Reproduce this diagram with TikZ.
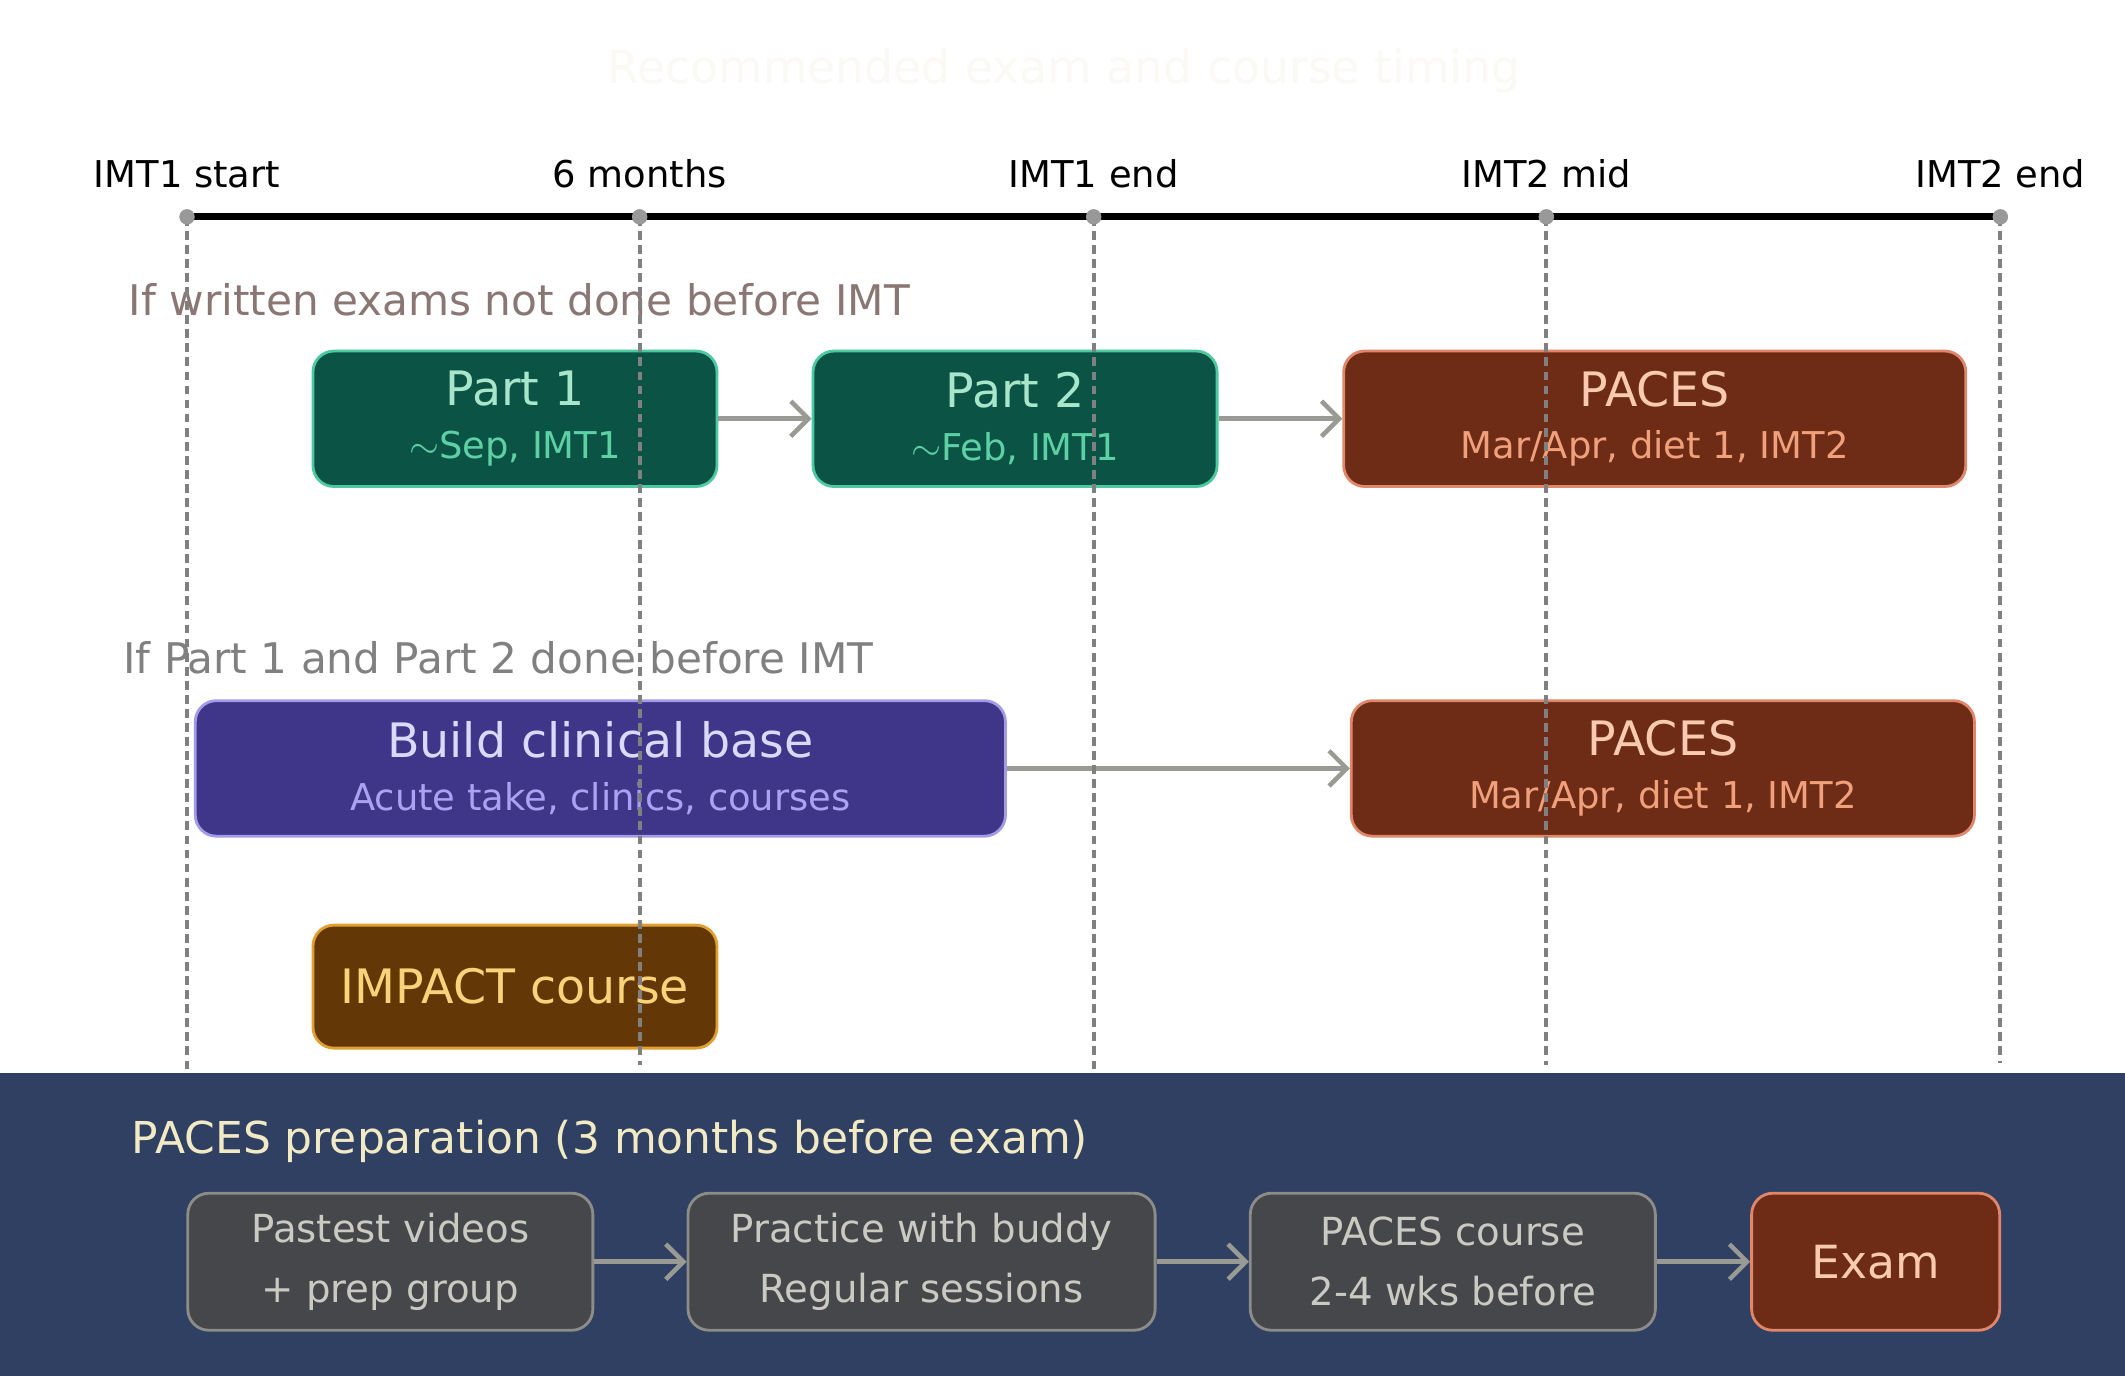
\documentclass[tikz,border=0pt]{standalone}
\usepackage{fontspec}
\setmainfont{DejaVu Sans}
\usetikzlibrary{positioning}
\usetikzlibrary{arrows.meta}
\definecolor{grnfill}{HTML}{0B5345}
\definecolor{grnline}{HTML}{4CC9A0}
\definecolor{grnsub}{HTML}{5DD0A4}
\definecolor{grntext}{HTML}{A8E6CC}
\definecolor{redfill}{HTML}{6E2C16}
\definecolor{redline}{HTML}{E0866A}
\definecolor{redsub}{HTML}{F0A07A}
\definecolor{redtext}{HTML}{F8CBB0}
\definecolor{purfill}{HTML}{3F3589}
\definecolor{purline}{HTML}{A49AEA}
\definecolor{pursub}{HTML}{ABA2F2}
\definecolor{purtext}{HTML}{DCD8FA}
\definecolor{ambfill}{HTML}{633806}
\definecolor{ambline}{HTML}{E0A030}
\definecolor{ambtext}{HTML}{FAD27A}
\definecolor{bandfill}{HTML}{2F4063}
\definecolor{prepfill}{HTML}{46474A}
\definecolor{prepline}{HTML}{8C8C88}
\definecolor{preptext}{HTML}{CACAC2}
\definecolor{arrowgray}{HTML}{9A9A94}
\definecolor{rowlabel}{HTML}{8A7672}
\tikzset{
    box/.style={draw, line width=0.8pt, rounded corners=6pt, align=center,
        inner sep=0pt},
    arr/.style={draw=arrowgray, line width=1.3pt, -{Straight Barb[length=5pt,width=10pt]}},
    tick/.style={font=\fontsize{10.5}{12}\selectfont, anchor=base},
    guide/.style={draw=gray, line width=1.2pt, dash pattern=on 2.5pt off 1.5pt}
}
\newcommand{\twoline}[4]{{\fontsize{13.5}{15}\selectfont\color{#1}#2}\\[3pt]{\fontsize{10.5}{12}\selectfont\color{#3}#4}}
\begin{document}
\begin{tikzpicture}[x=0.01355cm, y=-0.01355cm]
        \useasboundingbox (0,0) rectangle (1568,1015);
        \fill[white] (0,0) rectangle (1568,1015);

        % Title
        \node[font=\fontsize{13}{15}\selectfont, text={rgb,255:red,250;green,249;blue,244}] (title) at (785,52) {Recommended exam and course timing};

        % Bottom band
        \fill[bandfill] (0,792) rectangle (1568,1015);

        % Rows
        \node[anchor=west, text=rowlabel, font=\fontsize{12}{14}\selectfont] (row1) at (86,221) {If written exams not done before IMT};
        \node[anchor=west, text=gray, font=\fontsize{12}{14}\selectfont] (row2) at (82,485) {If Part 1 and Part 2 done before IMT};

        \node[box, fill=grnfill, draw=grnline, minimum width=298\pgflinewidth*0+4.04cm, minimum height=1.355cm] (part1) at (380,309) {\twoline{grntext}{Part 1}{grnsub}{$\sim$Sep, IMT1}};
        \node[box, fill=grnfill, draw=grnline, minimum width=4.04cm, minimum height=1.355cm] (part2) at (749,309) {\twoline{grntext}{Part 2}{grnsub}{$\sim$Feb, IMT1}};
        \node[box, fill=redfill, draw=redline, minimum width=6.22cm, minimum height=1.355cm] (paces1) at (1221,309) {\twoline{redtext}{PACES}{redsub}{Mar/Apr, diet 1, IMT2}};

        \node[box, fill=purfill, draw=purline, minimum width=8.10cm, minimum height=1.355cm] (base) at (443,567) {\twoline{purtext}{Build clinical base}{pursub}{Acute take, clinics, courses}};
        \node[box, fill=redfill, draw=redline, minimum width=6.23cm, minimum height=1.355cm] (paces2) at (1227,567) {\twoline{redtext}{PACES}{redsub}{Mar/Apr, diet 1, IMT2}};

        \node[box, fill=ambfill, draw=ambline, minimum width=4.04cm, minimum height=1.23cm, text=ambtext, font=\fontsize{13.5}{15}\selectfont] (impact) at (380,728) {IMPACT course};

        \draw[arr] (part1) -- (part2);
        \draw[arr] (part2) -- (paces1);
        \draw[arr] (base) -- (paces2);

        % Timeline with dashed guides
        \draw[line width=2pt] (138,160) -- (1476,160);
        \foreach \x/\name/\label/\yend in {138/t0/IMT1 start/790, 472/t1/6 months/786, 807/t2/IMT1 end/790, 1141/t3/IMT2 mid/786, 1476/t4/IMT2 end/784} {
                \coordinate (\name) at (\x,160);
                \coordinate (\name e) at (\x,\yend);
                \draw[guide] (\name) -- (\name e);
                \fill[gray!80] (\name) circle (2.2pt);
                \node[tick] at (\x,138) {\label};
            }

        % Preparation band
        \node[anchor=west, text={rgb,255:red,242;green,234;blue,196}, font=\fontsize{12.5}{14}\selectfont] (prep) at (88,842) {PACES preparation (3 months before exam)};
        \node[box, fill=prepfill, draw=prepline, minimum width=4.05cm, minimum height=1.37cm, text=preptext, font=\fontsize{11}{13}\selectfont] (videos) at (288,931) {Pastest videos\\[4pt]+ prep group};
        \node[box, fill=prepfill, draw=prepline, minimum width=4.67cm, minimum height=1.37cm, text=preptext, font=\fontsize{11}{13}\selectfont] (buddy) at (680,931) {Practice with buddy\\[4pt]Regular sessions};
        \node[box, fill=prepfill, draw=prepline, minimum width=4.05cm, minimum height=1.37cm, text=preptext, font=\fontsize{11}{13}\selectfont] (course) at (1072,931) {PACES course\\[4pt]2-4 wks before};
        \node[box, fill=redfill, draw=redline, minimum width=2.48cm, minimum height=1.37cm, text=redtext, font=\fontsize{13}{15}\selectfont] (exam) at (1384,931) {Exam};

        \draw[arr] (videos) -- (buddy);
        \draw[arr] (buddy) -- (course);
        \draw[arr] (course) -- (exam);
    \end{tikzpicture}
\end{document}
